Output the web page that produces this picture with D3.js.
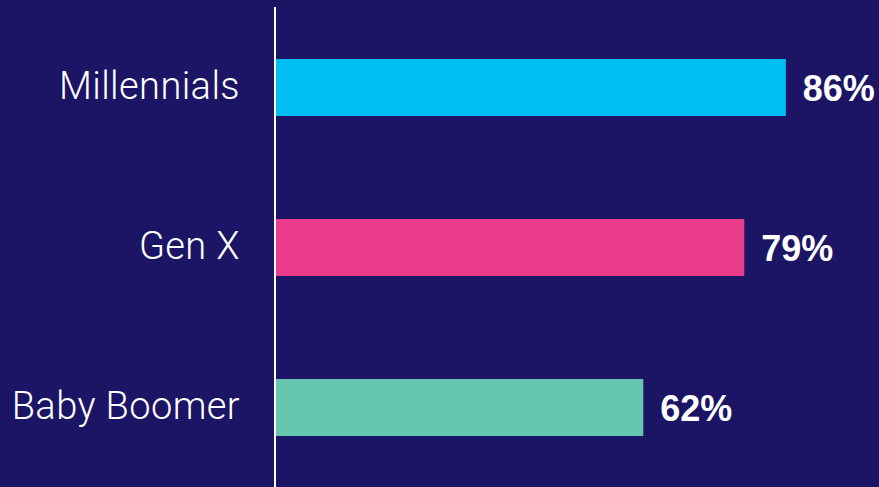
<!DOCTYPE html>
<html>
<head>
<meta charset="utf-8">
<script src="https://cdn.jsdelivr.net/npm/d3@7"></script>
<style>
  body { margin: 0; background: #1c1464; }
  .cat-label { font-family: Roboto, "Liberation Sans", Arial, sans-serif; font-weight: 300; fill: #ffffff; letter-spacing: 0.4px; }
  .val-label { font-family: "Liberation Sans", Arial, sans-serif; font-weight: bold; fill: #ffffff; }
</style>
</head>
<body>
<svg id="chart"></svg>
<script>
// chart data
const categories = ["Millennials", "Gen X", "Baby Boomer"];
const values = [86, 79, 62];
const barColors = ["#00bff3", "#ec3d8c", "#66c6b0"];

const width = 879, height = 487;

const svg = d3.select("#chart")
    .attr("width", width)
    .attr("height", height);

svg.append("rect")
    .attr("width", width)
    .attr("height", height)
    .attr("fill", "#1c1464");

const xScale = d3.scaleLinear()
    .domain([0, 100])
    .range([275, 869]);

const yScale = d3.scaleBand()
    .domain(categories)
    .range([7.5, 487.5])
    .paddingInner(0.644)
    .paddingOuter(0.322);

// bars
svg.selectAll(".bar")
    .data(categories)
    .enter()
    .append("rect")
    .attr("class", "bar")
    .attr("x", xScale(0))
    .attr("y", d => yScale(d))
    .attr("width", (d, i) => xScale(values[i]) - xScale(0))
    .attr("height", yScale.bandwidth())
    .attr("fill", (d, i) => barColors[i]);

// value labels
svg.selectAll(".val-label")
    .data(categories)
    .enter()
    .append("text")
    .attr("class", "val-label")
    .attr("x", (d, i) => xScale(values[i]) + 17)
    .attr("y", d => yScale(d) + yScale.bandwidth() / 2 + 13)
    .style("font-size", "36px")
    .text((d, i) => values[i] + "%");

// category labels
svg.selectAll(".cat-label")
    .data(categories)
    .enter()
    .append("text")
    .attr("class", "cat-label")
    .attr("x", 240)
    .attr("y", d => yScale(d) + yScale.bandwidth() / 2 + 11)
    .attr("text-anchor", "end")
    .style("font-size", "38px")
    .text(d => d);

// vertical axis line
svg.append("line")
    .attr("x1", xScale(0))
    .attr("x2", xScale(0))
    .attr("y1", 7)
    .attr("y2", height)
    .attr("stroke", "#ffffff")
    .attr("stroke-width", 2);
</script>
</body>
</html>
